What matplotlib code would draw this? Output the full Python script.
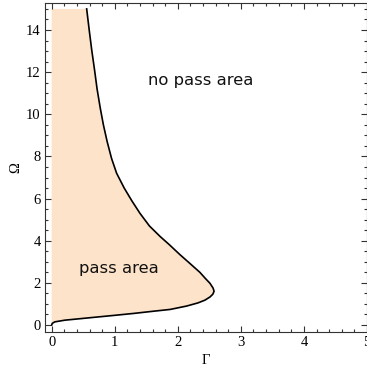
import matplotlib
matplotlib.use("Agg")
import matplotlib.pyplot as plt
from matplotlib.ticker import MultipleLocator

# Boundary of the pass region (Gamma, Omega), traced from the origin
# along the lower branch, around the nose and up the upper branch.
gamma = [0.0, 0.01, 0.05, 0.21, 0.45, 0.69, 1.0, 1.3, 1.6, 1.88, 2.14,
         2.32, 2.43, 2.51, 2.555, 2.575, 2.56, 2.51, 2.44, 2.35, 2.2, 2.03,
         1.87, 1.72, 1.55, 1.40, 1.27, 1.15, 1.03, 0.95, 0.88, 0.82, 0.77,
         0.72, 0.68, 0.635, 0.595, 0.555]
omega = [0.0, 0.08, 0.15, 0.23, 0.3, 0.37, 0.46, 0.55, 0.65, 0.74, 0.9,
         1.05, 1.18, 1.33, 1.46, 1.6, 1.75, 1.98, 2.2, 2.5, 2.9, 3.35,
         3.8, 4.2, 4.7, 5.3, 5.9, 6.5, 7.2, 7.9, 8.7, 9.5, 10.3,
         11.2, 12.1, 13.05, 14.0, 15.0]

fill_color = "#fde3c9"

fig = plt.figure(figsize=(3.67, 3.77), dpi=100)
ax = fig.add_axes([0.1226, 0.12, 0.8774, 0.872])

# Pass region: bounded by Gamma = 0 on the left and the curve on the right
poly_x = [0.0] + gamma + [0.0]
poly_y = [15.0] + omega + [15.0]
ax.fill(poly_x, poly_y, color=fill_color, lw=0, zorder=1)
ax.plot(gamma, omega, color="black", lw=1.2, zorder=3,
        solid_joinstyle="round")

ax.text(2.37, 11.6, "no pass area", ha="center", va="center",
        fontsize=11.8, family="DejaVu Sans", color="#111111")
ax.text(1.07, 2.7, "pass area", ha="center", va="center",
        fontsize=11.8, family="DejaVu Sans", color="#111111")

ax.set_xlim(-0.106, 5.0)
ax.set_ylim(-0.32, 15.28)

ax.xaxis.set_major_locator(MultipleLocator(1))
ax.xaxis.set_minor_locator(MultipleLocator(0.2))
ax.yaxis.set_major_locator(MultipleLocator(2))
ax.yaxis.set_minor_locator(MultipleLocator(0.5))

ax.tick_params(which="both", direction="in", top=True, right=True,
               color="#333333", width=0.8)
ax.tick_params(which="major", length=4, labelsize=10.5, pad=3)
ax.tick_params(which="minor", length=2)
for lab in ax.get_xticklabels() + ax.get_yticklabels():
    lab.set_family("Liberation Serif")

for s in ax.spines.values():
    s.set_color("#333333")
    s.set_linewidth(0.8)

ax.set_xlabel("Γ", family="Liberation Serif", fontsize=10.5, labelpad=4)
ax.set_ylabel("Ω", family="Liberation Serif", fontsize=10.5, labelpad=3)

fig.savefig("out.png", dpi=100)
